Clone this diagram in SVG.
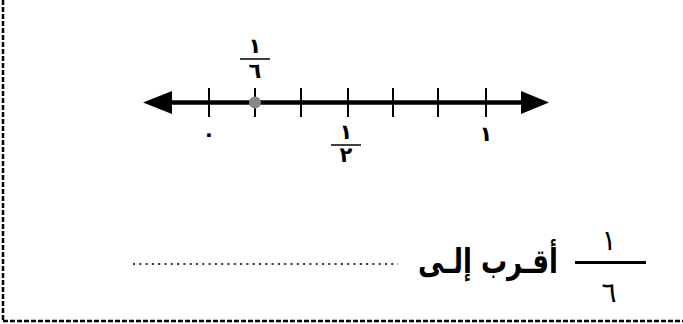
<svg xmlns="http://www.w3.org/2000/svg" width="683" height="324" viewBox="0 0 683 324">
<style>
.ar{font-family:"DejaVu Sans","Noto Sans",sans-serif;fill:#000}
.sm{font-size:21px;font-weight:bold}
.tick{stroke:#000;stroke-width:2}
.bar{stroke:#000;stroke-width:1.5}
.border{stroke:#000;stroke-width:2.5;stroke-dasharray:5 2;fill:none}
</style>
<rect width="683" height="324" fill="#fff"/>
<g id="frame">
<line class="border" x1="3" y1="0" x2="3" y2="321"/>
<line class="border" x1="3" y1="321" x2="683" y2="321"/>
</g>
<g id="numberline">
<line x1="165" y1="102.5" x2="528" y2="102.5" stroke="#000" stroke-width="4.5"/>
<polygon points="143,102.5 172,91 172,114" fill="#000"/>
<polygon points="549,102.5 521,91 521,114" fill="#000"/>
<line class="tick" x1="209" y1="88" x2="209" y2="117"/>
<line class="tick" x1="255" y1="88" x2="255" y2="117"/>
<line class="tick" x1="301" y1="88" x2="301" y2="117"/>
<line class="tick" x1="348" y1="88" x2="348" y2="117"/>
<line class="tick" x1="393" y1="88" x2="393" y2="117"/>
<line class="tick" x1="438" y1="88" x2="438" y2="117"/>
<line class="tick" x1="486" y1="88" x2="486" y2="117"/>
<circle cx="255" cy="102.5" r="6" fill="#888"/>
</g>
<g id="label-1-6">
<text class="ar sm" x="255" y="53" text-anchor="middle">١</text>
<line class="bar" x1="240" y1="59" x2="270" y2="59"/>
<text class="ar sm" x="255" y="78" text-anchor="middle">٦</text>
</g>
<g id="label-0"><text class="ar sm" x="209" y="141" text-anchor="middle">٠</text></g>
<g id="label-1-2">
<text class="ar sm" x="346" y="139" text-anchor="middle">١</text>
<line class="bar" x1="331" y1="145" x2="361" y2="145"/>
<text class="ar sm" x="346" y="162" text-anchor="middle">٢</text>
</g>
<g id="label-1"><text class="ar sm" x="486" y="141" text-anchor="middle">١</text></g>
<g id="question">
<line x1="133" y1="264" x2="398" y2="264" stroke="#333" stroke-width="2" stroke-dasharray="2 4.3"/>
<text class="ar" x="558" y="273" font-size="34" font-weight="bold" text-anchor="start" direction="rtl" textLength="140" lengthAdjust="spacingAndGlyphs">أقـرب إلـى</text>
<text class="ar" x="609" y="250" font-size="28" text-anchor="middle">١</text>
<line x1="575" y1="262.5" x2="646" y2="262.5" stroke="#000" stroke-width="3"/>
<text class="ar" x="609" y="302" font-size="28" text-anchor="middle">٦</text>
</g>
</svg>
